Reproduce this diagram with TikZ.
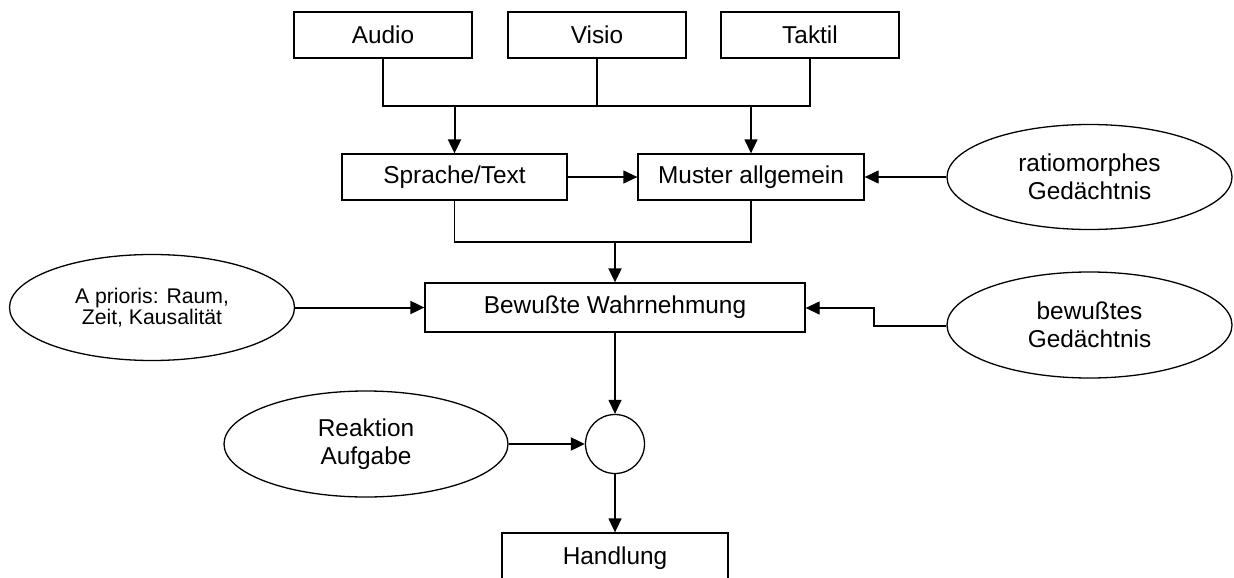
\documentclass[tikz,border=0pt]{standalone}
\usepackage{fontspec}
\setmainfont{Liberation Sans}
\usetikzlibrary{shapes.geometric,arrows.meta}
\begin{document}
\begin{tikzpicture}[x=1pt,y=-1pt,
  line width=1.3pt,
  txt/.style={font=\fontsize{24.4pt}{27.5pt}\selectfont, align=center},
  box/.style={txt, draw, rectangle, inner sep=0pt, minimum height=46pt},
  oval/.style={txt, draw, ellipse, inner sep=0pt, minimum width=285pt, minimum height=106pt},
  arr/.style={-{Triangle[length=14pt,width=13pt]}},
  thk/.style={line width=2pt}]
\fill[white] (0,0) rectangle (1234,578);
\useasboundingbox (0,0) rectangle (1234,578);
% boxes
\node[box, minimum width=178pt] (audio) at (383,35) {Audio};
\node[box, minimum width=178pt] (visio) at (597,35) {Visio};
\node[box, minimum width=178pt] (taktil) at (810,35) {Taktil};
\node[box, minimum width=225pt] (sprache) at (454.5,177) {Sprache/Text};
\node[box, minimum width=226pt] (muster) at (751,177) {Muster allgemein};
\node[box, minimum width=380pt, minimum height=49pt] (bewusst) at (615,307.5) {Bewußte Wahrnehmung};
\node[draw, circle, minimum size=59pt, inner sep=0pt] (kreis) at (615,444) {};
\node[box, minimum width=226pt, minimum height=50pt] (handlung) at (615,558) {Handlung};
% ellipses
\node[oval, font=\fontsize{21.2pt}{21.5pt}\selectfont] (apriori) at (152,307.5) {A prioris: Raum,\\Zeit, Kausalität};
\node[oval, minimum height=105pt] (ratio) at (1089.5,177) {ratiomorphes\\Gedächtnis};
\node[oval] (bewged) at (1089.5,325) {bewußtes\\Gedächtnis};
\node[oval, minimum width=284pt] (reaktion) at (366,444) {Reaktion\\Aufgabe};
% junctions
\coordinate (j1) at (454.5,106);
\coordinate (j2) at (751,106);
\coordinate (j3) at (615,242);
\coordinate (k1) at (874,326);
\coordinate (k2) at (874,308);
% connectors
\draw (audio.south) |- (j1) -- (j2) -| (taktil.south);
\draw (visio.south) -- (visio.south |- j1);
\draw[arr, thk] (j1) -- (sprache.north);
\draw[arr] (j2) -- (muster.north);
\draw[arr] (sprache.east) -- (muster.west);
\draw[arr] (ratio.west) -- (muster.east);
\draw (sprache.south) |- (j3) -| (muster.south);
\draw[arr, thk] (j3) -- (bewusst.north);
\draw[arr, thk] (apriori.east) -- (bewusst.west);
\draw[arr] (bewged.west |- k1) -- (k1) -- (k2) -- (bewusst.east |- k2);
\draw[arr] (bewusst.south) -- (kreis.north);
\draw[arr, thk] (reaktion.east) -- (kreis.west);
\draw[arr] (kreis.south) -- (handlung.north);
\end{tikzpicture}
\end{document}
